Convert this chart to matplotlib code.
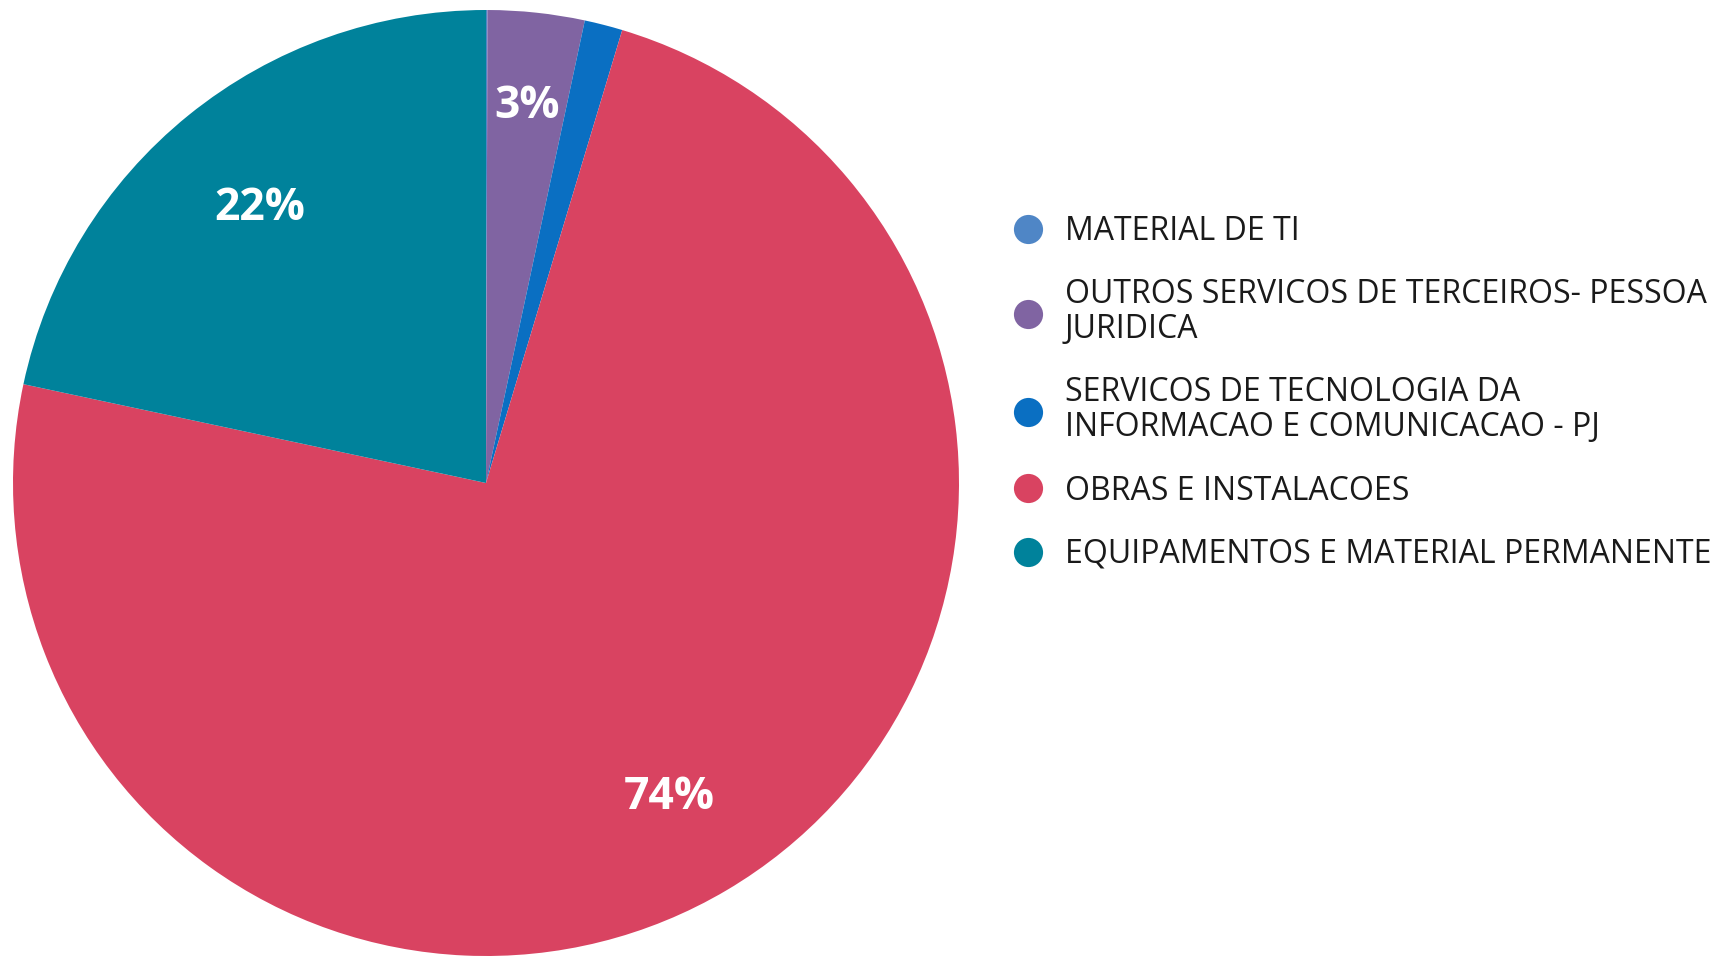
import numpy as np
import matplotlib
matplotlib.use("Agg")
from matplotlib import pyplot as plt
from matplotlib.lines import Line2D

plt.rcParams['font.family'] = ['Open Sans', 'DejaVu Sans']

categories = ["MATERIAL DE TI",
              "OUTROS SERVICOS DE TERCEIROS- PESSOA\nJURIDICA",
              "SERVICOS DE TECNOLOGIA DA\nINFORMACAO E COMUNICACAO - PJ",
              "OBRAS E INSTALACOES",
              "EQUIPAMENTOS E MATERIAL PERMANENTE"]
shares = [0.05, 3.3, 1.3, 73.7, 21.65]
colors = ["#4F86C6", "#8064A2", "#0A6FC2", "#D94361", "#00829B"]

fig = plt.figure(figsize=(17.16, 9.56), dpi=100)
ax = fig.add_axes([13 / 1716, 0.0, 946 / 1716, 946 / 956])

wedges, _ = ax.pie(shares, colors=colors, startangle=90, counterclock=False,
                   radius=1.0, wedgeprops=dict(linewidth=0))
ax.set_xlim(-1, 1)
ax.set_ylim(-1, 1)
ax.set_aspect("equal")
ax.axis("off")

# percentage labels, only for slices big enough
label_dist = [0, 0.81, 0, 0.76, 0.76]
total = sum(shares)
for w, v, d in zip(wedges, shares, label_dist):
    pct = 100 * v / total
    if pct < 2:
        continue
    ang = np.deg2rad((w.theta1 + w.theta2) / 2)
    ax.text(d * np.cos(ang), d * np.sin(ang) - 0.01, "{:.0f}%".format(pct),
            ha="center", va="center", color="white", fontsize=32, fontweight="bold")

handles = [Line2D([], [], marker="o", linestyle="none", markersize=21,
                  markerfacecolor=c, markeredgewidth=0) for c in colors]
leg = fig.legend(handles, categories, loc="upper left",
                 bbox_to_anchor=(1012 / 1716, 1 - 215 / 956),
                 frameon=False, fontsize=23, handletextpad=0.66,
                 labelspacing=0.95, handlelength=1.0, borderpad=0, borderaxespad=0)
for t in leg.get_texts():
    t.set_linespacing(1.07)
    t.set_color("#1a1a1a")

fig.savefig("out.png", dpi=100)
